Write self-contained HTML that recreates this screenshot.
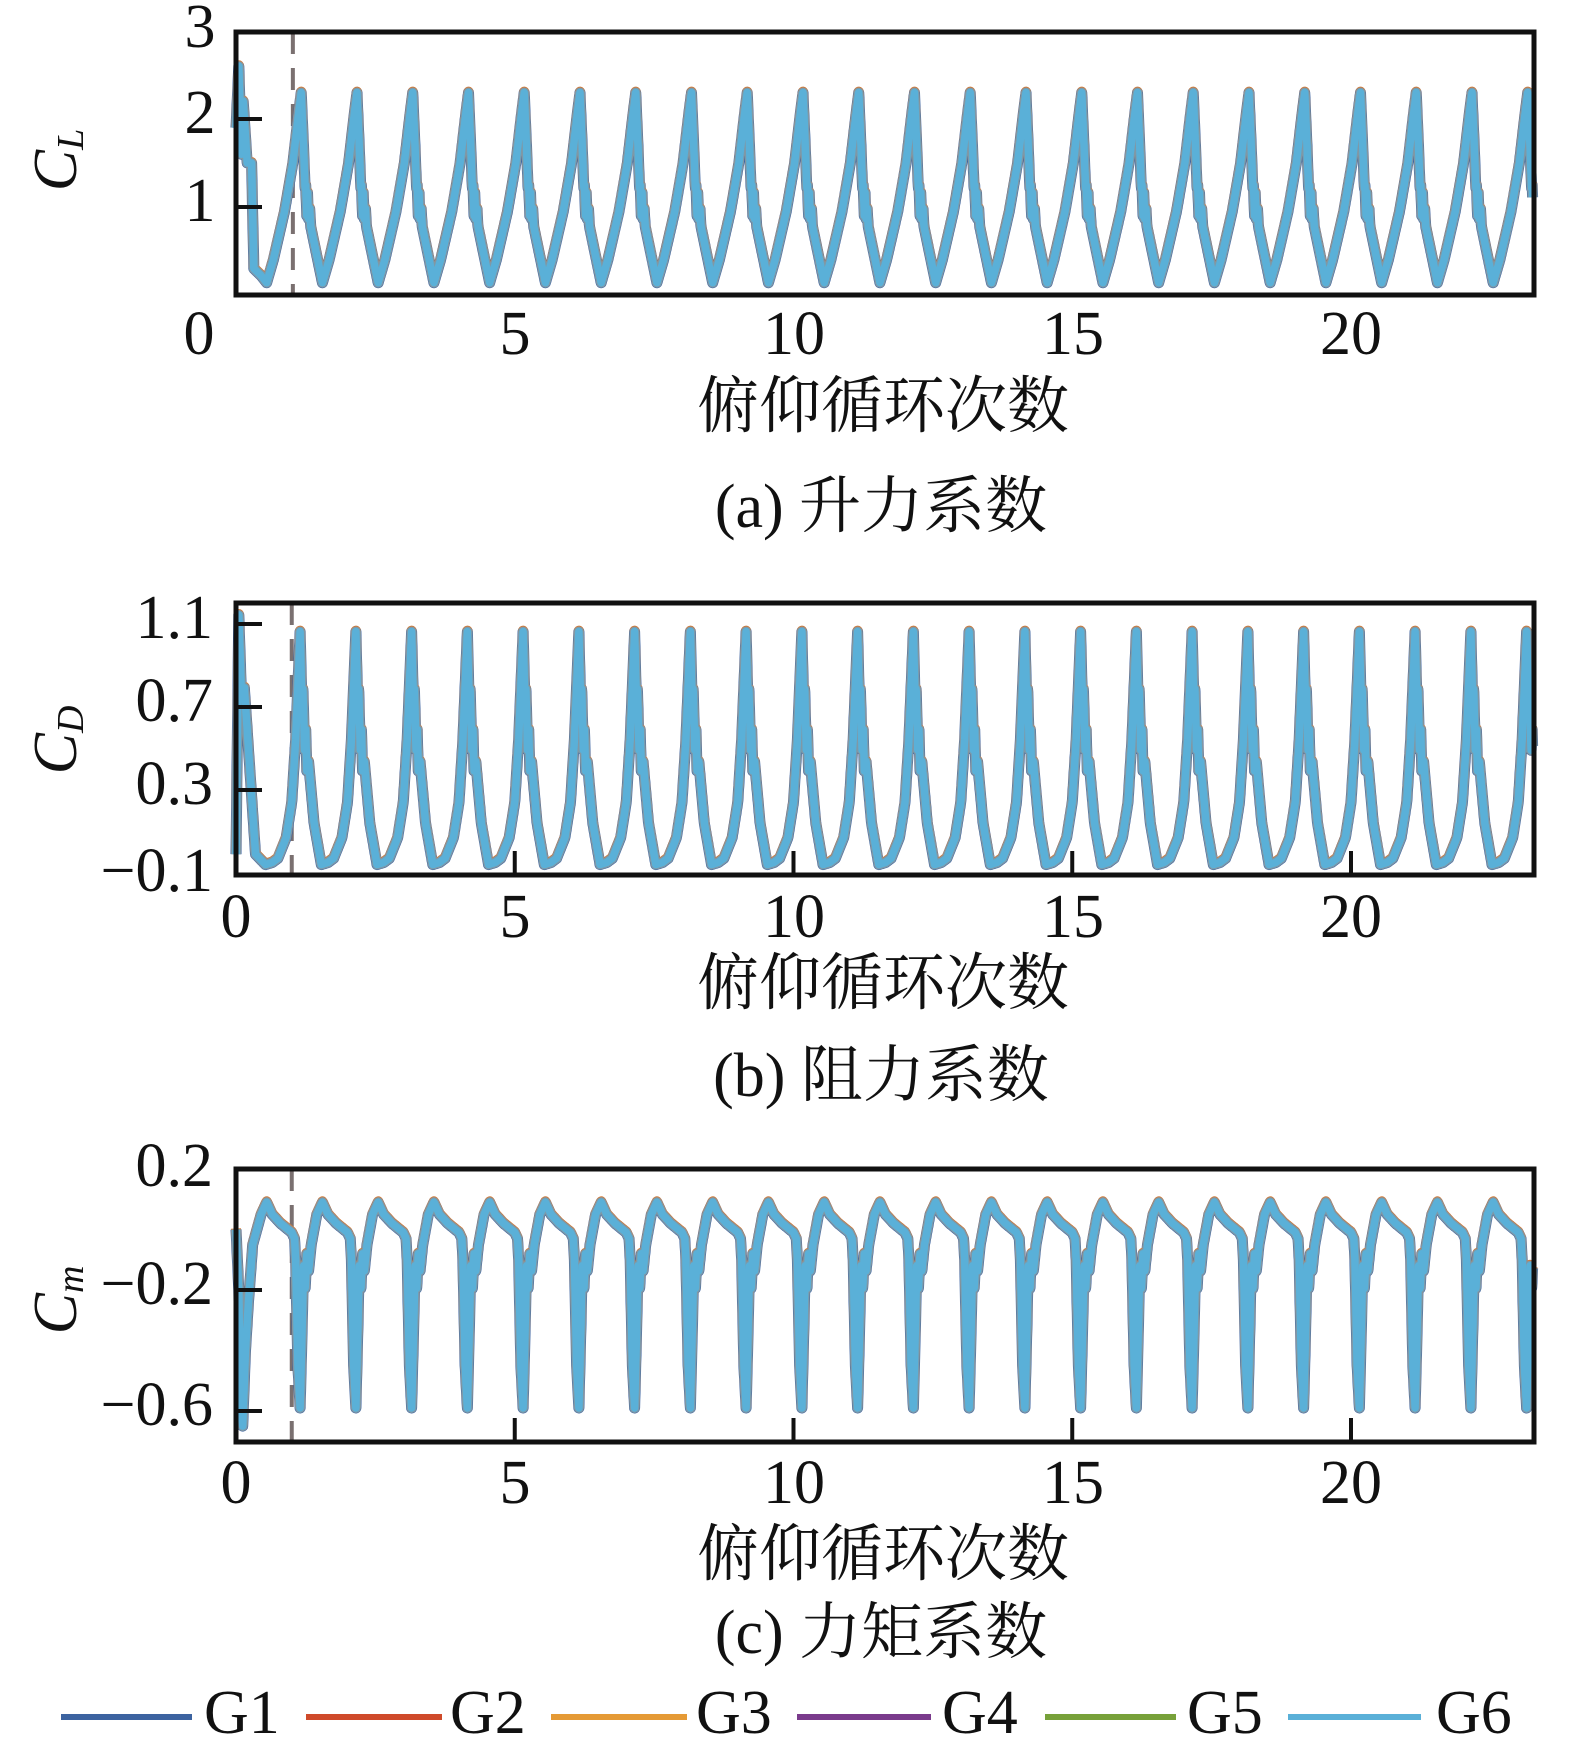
<!DOCTYPE html>
<html><head><meta charset="utf-8"><style>
html,body{margin:0;padding:0;background:#fff;}
svg{display:block;}
text{font-family:"Liberation Serif","Noto Serif CJK SC",serif;fill:#111;}
</style></head><body>
<svg id="s" width="1571" height="1748" viewBox="0 0 1571 1748" xmlns="http://www.w3.org/2000/svg">
<g font-size="62">
<text x="199" y="340" text-anchor="middle" dominant-baseline="middle">0</text>
<text x="515" y="340" text-anchor="middle" dominant-baseline="middle">5</text>
<text x="794" y="340" text-anchor="middle" dominant-baseline="middle">10</text>
<text x="1073" y="340" text-anchor="middle" dominant-baseline="middle">15</text>
<text x="1351" y="340" text-anchor="middle" dominant-baseline="middle">20</text>
<text x="200" y="33" text-anchor="middle" dominant-baseline="middle">3</text>
<text x="200" y="119" text-anchor="middle" dominant-baseline="middle">2</text>
<text x="200" y="207" text-anchor="middle" dominant-baseline="middle">1</text>

<text x="236" y="923" text-anchor="middle" dominant-baseline="middle">0</text>
<text x="515" y="923" text-anchor="middle" dominant-baseline="middle">5</text>
<text x="794" y="923" text-anchor="middle" dominant-baseline="middle">10</text>
<text x="1073" y="923" text-anchor="middle" dominant-baseline="middle">15</text>
<text x="1351" y="923" text-anchor="middle" dominant-baseline="middle">20</text>
<text x="213" y="624" text-anchor="end" dominant-baseline="middle">1.1</text>
<text x="213" y="707" text-anchor="end" dominant-baseline="middle">0.7</text>
<text x="213" y="790" text-anchor="end" dominant-baseline="middle">0.3</text>
<text x="213" y="877" text-anchor="end" dominant-baseline="middle">−0.1</text>

<text x="236" y="1489" text-anchor="middle" dominant-baseline="middle">0</text>
<text x="515" y="1489" text-anchor="middle" dominant-baseline="middle">5</text>
<text x="794" y="1489" text-anchor="middle" dominant-baseline="middle">10</text>
<text x="1073" y="1489" text-anchor="middle" dominant-baseline="middle">15</text>
<text x="1351" y="1489" text-anchor="middle" dominant-baseline="middle">20</text>
<text x="213" y="1172" text-anchor="end" dominant-baseline="middle">0.2</text>
<text x="213" y="1290" text-anchor="end" dominant-baseline="middle">−0.2</text>
<text x="213" y="1411" text-anchor="end" dominant-baseline="middle">−0.6</text>

<text transform="translate(62,160) rotate(-90)" text-anchor="middle" dominant-baseline="middle" font-style="italic">C<tspan font-size="38" dy="12">L</tspan></text>
<text transform="translate(62,740) rotate(-90)" text-anchor="middle" dominant-baseline="middle" font-style="italic">C<tspan font-size="38" dy="12">D</tspan></text>
<text transform="translate(62,1300) rotate(-90)" text-anchor="middle" dominant-baseline="middle" font-style="italic">C<tspan font-size="38" dy="12">m</tspan></text>

<text x="883" y="413" text-anchor="middle" dominant-baseline="middle">俯仰循环次数</text>
<text x="881" y="513" text-anchor="middle" dominant-baseline="middle">(a) 升力系数</text>
<text x="883" y="990" text-anchor="middle" dominant-baseline="middle">俯仰循环次数</text>
<text x="881" y="1082" text-anchor="middle" dominant-baseline="middle">(b) 阻力系数</text>
<text x="883" y="1561" text-anchor="middle" dominant-baseline="middle">俯仰循环次数</text>
<text x="881" y="1639" text-anchor="middle" dominant-baseline="middle">(c) 力矩系数</text>
</g>
<g stroke-width="6">
<line x1="61" y1="1717" x2="192" y2="1717" stroke="#3c63a0"/>
<line x1="306" y1="1717" x2="442" y2="1717" stroke="#cf4a2a"/>
<line x1="551" y1="1717" x2="687" y2="1717" stroke="#e59a35"/>
<line x1="797" y1="1717" x2="931" y2="1717" stroke="#7a3b8c"/>
<line x1="1045" y1="1717" x2="1176" y2="1717" stroke="#77a13a"/>
<line x1="1288" y1="1717" x2="1421" y2="1717" stroke="#5ab0d8"/>
</g>
<g font-size="62">
<text x="204" y="1719" dominant-baseline="middle">G1</text>
<text x="450" y="1719" dominant-baseline="middle">G2</text>
<text x="696" y="1719" dominant-baseline="middle">G3</text>
<text x="942" y="1719" dominant-baseline="middle">G4</text>
<text x="1187" y="1719" dominant-baseline="middle">G5</text>
<text x="1436" y="1719" dominant-baseline="middle">G6</text>
</g>
<g id="plots"></g>
</svg>
<script>
var X0=236,SX=55.75,XMAX=23.26;
function interp(pts,q){for(var i=1;i<pts.length;i++){if(q<=pts[i][0]){var a=pts[i-1],b=pts[i];return a[1]+(b[1]-a[1])*(q-a[0])/(b[0]-a[0]);}}return pts[pts.length-1][1];}
function build(trans,tEnd,cyc,peak,fy){
 var d=[];var x;
 for(x=0;x<=tEnd;x+=0.005){d.push([x,interp(trans,x)]);}
 for(x=tEnd;x<=XMAX;x+=0.004){var q=((x-peak)%1+1)%1;d.push([x,interp(cyc,q)]);}
 return d.map(function(p,i){return (i?'L':'M')+(X0+p[0]*SX).toFixed(1)+','+fy(p[1]).toFixed(1);}).join('');
}
var cl=[[0,2.3],[0.04,1.7],[0.07,1.2],[0.08,1.25],[0.1,0.9],[0.11,1.2],[0.13,0.85],[0.15,1.0],[0.17,0.78],[0.38,0.14],[0.5,0.4],[0.7,0.95],[0.85,1.5],[0.95,2.05],[1,2.3]];
var clT=[[0,1.9],[0.05,2.6],[0.1,1.6],[0.13,2.2],[0.2,1.5],[0.28,1.5],[0.32,0.3],[0.45,0.22],[0.55,0.14]];
var cd=[[0,1.07],[0.03,0.75],[0.05,0.8],[0.08,0.5],[0.1,0.6],[0.12,0.4],[0.15,0.45],[0.25,0.15],[0.38,-0.05],[0.5,-0.04],[0.6,-0.02],[0.75,0.08],[0.85,0.25],[0.92,0.55],[1,1.07]];
var cdT=[[0,0],[0.05,1.15],[0.1,0.75],[0.15,0.8],[0.2,0.6],[0.35,0.0],[0.53,-0.05]];
var cm=[[0,0.09],[0.1,0.05],[0.25,0.02],[0.45,-0.01],[0.5,-0.03],[0.52,-0.1],[0.56,-0.45],[0.6,-0.59],[0.64,-0.3],[0.66,-0.12],[0.69,-0.2],[0.72,-0.08],[0.75,-0.14],[0.8,-0.05],[0.9,0.05],[1,0.09]];
var cmT=[[0,0],[0.05,-0.2],[0.08,-0.55],[0.12,-0.65],[0.17,-0.4],[0.22,-0.25],[0.3,-0.05],[0.45,0.05],[0.55,0.09]];
var panels=[
 {top:32,bot:295,d:build(clT,0.55,cl,0.17,function(v){return 295-v*88;}),ticksY:[119,207],dash:1.02,xt:false},
 {top:603,bot:875,d:build(cdT,0.53,cd,0.15,function(v){return 875-(v+0.1)*208;}),ticksY:[624,707,790],dash:1.0,xt:true},
 {top:1169,bot:1442,d:build(cmT,0.55,cm,0.55,function(v){return 1169+(0.2-v)*302.5;}),ticksY:[1290,1411],dash:1.0,xt:true}
];
var g=document.getElementById('plots'),h='';
panels.forEach(function(p){
 var dx=X0+p.dash*SX;
 h+='<line x1="'+dx+'" y1="'+p.top+'" x2="'+dx+'" y2="'+p.bot+'" stroke="#7a7070" stroke-width="4" stroke-dasharray="22,14"/>';
 h+='<path d="'+p.d+'" fill="none" stroke="#3c63a0" stroke-width="11" stroke-linejoin="round"/>';
 h+='<path d="'+p.d+'" fill="none" stroke="#d07a3a" stroke-width="10" stroke-linejoin="round" transform="translate(0,-1)"/>';
 h+='<path d="'+p.d+'" fill="none" stroke="#7f98a6" stroke-width="10" stroke-linejoin="round"/>';
 h+='<path d="'+p.d+'" fill="none" stroke="#5ab0d8" stroke-width="7.5" stroke-linejoin="round"/>';
 p.ticksY.forEach(function(y){h+='<line x1="235" y1="'+y+'" x2="262" y2="'+y+'" stroke="#111" stroke-width="4"/>';});
 if(p.xt){[5,10,15,20].forEach(function(v){var x=X0+v*SX;h+='<line x1="'+x+'" y1="'+p.bot+'" x2="'+x+'" y2="'+(p.bot-24)+'" stroke="#111" stroke-width="4"/>';});}
 h+='<rect x="'+X0+'" y="'+p.top+'" width="'+(1534-X0)+'" height="'+(p.bot-p.top)+'" fill="none" stroke="#111" stroke-width="5"/>';
});
g.innerHTML=h;
</script>
</body></html>
